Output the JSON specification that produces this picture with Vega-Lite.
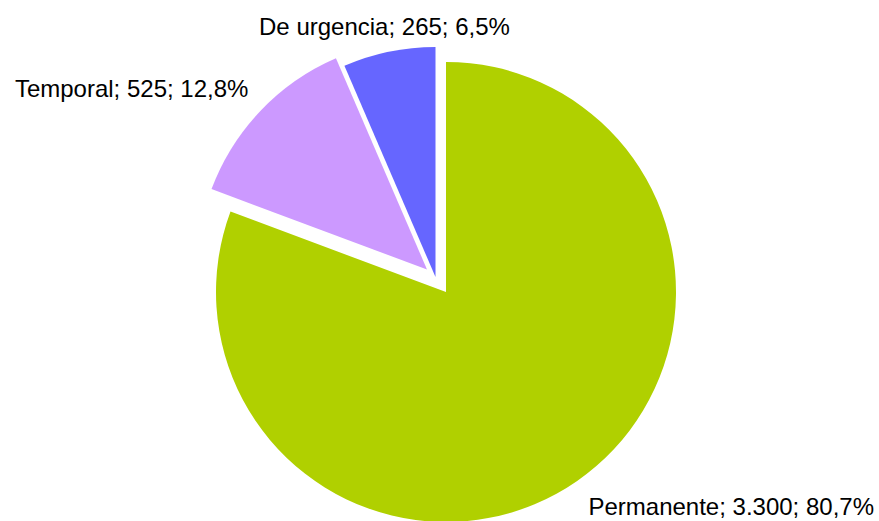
{
  "$schema": "https://vega.github.io/schema/vega-lite/v6.json",
  "autosize": "none",
  "width": 866,
  "height": 458,
  "padding": {"left": 13, "top": 63, "right": 0, "bottom": 0},
  "background": "white",
  "config": {"view": {"stroke": null}, "text": {"font": "Liberation Sans", "fontSize": 24, "color": "black"}},
  "data": {
    "values": [
      {"category": "Permanente", "value": 3300, "label": "Permanente; 3.300; 80,7%"},
      {"category": "Temporal", "value": 525, "label": "Temporal; 525; 12,8%"},
      {"category": "De urgencia", "value": 265, "label": "De urgencia; 265; 6,5%"}
    ]
  },
  "transform": [
    {"stack": "value", "groupby": [], "sort": [{"field": "value", "order": "descending"}], "as": ["v0", "v1"]}
  ],
  "layer": [
    {
      "transform": [{"filter": "datum.category === 'Permanente'"}],
      "mark": {"type": "arc", "outerRadius": 230},
      "encoding": {
        "theta": {"field": "v0", "type": "quantitative", "stack": null, "scale": {"domain": [0, 4090], "range": [0, 6.283185307]}},
        "theta2": {"field": "v1"},
        "color": {"field": "category", "type": "nominal", "legend": null, "scale": {"domain": ["Permanente", "Temporal", "De urgencia"], "range": ["#b0d000", "#cc99ff", "#6666ff"]}}
      }
    },
    {
      "transform": [{"filter": "datum.category === 'Temporal'"}],
      "mark": {"type": "arc", "outerRadius": 230, "xOffset": -19, "yOffset": -22.5},
      "encoding": {
        "theta": {"field": "v0", "type": "quantitative", "stack": null},
        "theta2": {"field": "v1"},
        "color": {"field": "category", "type": "nominal", "legend": null}
      }
    },
    {
      "transform": [{"filter": "datum.category === 'De urgencia'"}],
      "mark": {"type": "arc", "outerRadius": 230, "xOffset": -10.5, "yOffset": -15},
      "encoding": {
        "theta": {"field": "v0", "type": "quantitative", "stack": null},
        "theta2": {"field": "v1"},
        "color": {"field": "category", "type": "nominal", "legend": null}
      }
    },
    {
      "transform": [
        {"fold": ["v0", "v1"], "as": ["k", "ang"]},
        {"aggregate": [{"op": "mean", "field": "ang", "as": "mid"}], "groupby": ["category", "label"]},
        {"filter": "datum.category === 'Permanente'"}
      ],
      "mark": {"type": "text", "radius": 270, "align": "left", "baseline": "alphabetic", "dx": -11.5, "dy": 1},
      "encoding": {
        "theta": {"field": "mid", "type": "quantitative", "stack": null},
        "text": {"field": "label"}
      }
    },
    {
      "transform": [
        {"fold": ["v0", "v1"], "as": ["k", "ang"]},
        {"aggregate": [{"op": "mean", "field": "ang", "as": "mid"}], "groupby": ["category", "label"]},
        {"filter": "datum.category === 'Temporal'"}
      ],
      "mark": {"type": "text", "radius": 270, "align": "right", "baseline": "alphabetic", "dx": -2, "dy": -8.5},
      "encoding": {
        "theta": {"field": "mid", "type": "quantitative", "stack": null},
        "text": {"field": "label"}
      }
    },
    {
      "transform": [
        {"fold": ["v0", "v1"], "as": ["k", "ang"]},
        {"aggregate": [{"op": "mean", "field": "ang", "as": "mid"}], "groupby": ["category", "label"]},
        {"filter": "datum.category === 'De urgencia'"}
      ],
      "mark": {"type": "text", "radius": 260, "align": "center", "baseline": "alphabetic", "dx": -9, "dy": -2.5},
      "encoding": {
        "theta": {"field": "mid", "type": "quantitative", "stack": null},
        "text": {"field": "label"}
      }
    }
  ]
}
